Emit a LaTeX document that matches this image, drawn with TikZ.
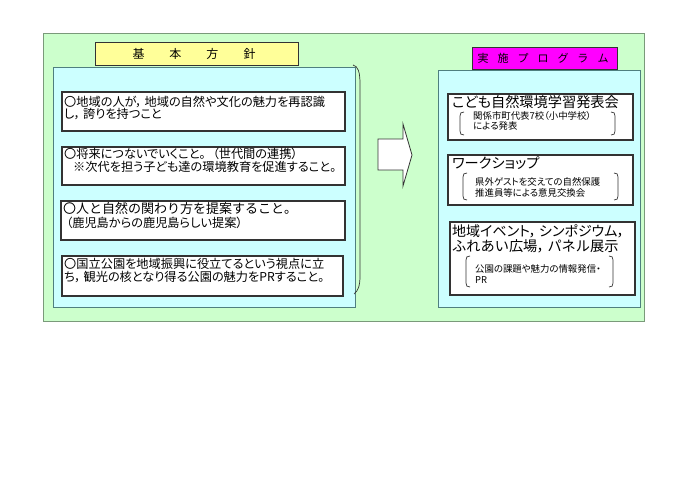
\documentclass[tikz,border=0pt]{standalone}
\usepackage{fontspec}
\setmainfont{Noto Sans CJK JP}[RawFeature={+palt}]
\newfontfamily\jpfix{Noto Sans CJK JP}
\usetikzlibrary{fit}
\definecolor{bggreen}{HTML}{CCFFCC}
\definecolor{bgcyan}{HTML}{CCFFFF}
\definecolor{ttlyellow}{HTML}{FFFF99}
\definecolor{ttlmag}{HTML}{FF00FF}
\definecolor{edgegreen}{HTML}{7A9A7A}
\definecolor{edgecyan}{HTML}{4F7F7F}
\definecolor{edgedark}{HTML}{333333}
\newcommand{\cm}{，\hspace{2.5pt}}
\tikzset{
  panel/.style={inner sep=0pt, outer sep=0pt, draw, line width=0.9pt},
  greenbox/.style={panel, fill=bggreen, draw=edgegreen},
  cyanbox/.style={panel, fill=bgcyan, draw=edgecyan},
  whitebox/.style={panel, fill=white, draw=edgedark, line width=1.1pt},
  ttlbox/.style={panel, draw=edgedark, line width=0.9pt},
  line/.style={inner sep=0pt, anchor=base west, text=black},
  lfont/.style={font=\fontsize{12.2}{12}\selectfont},
  tfont/.style={font=\fontsize{14.2}{14}\selectfont},
  sfont/.style={font=\fontsize{9.4}{9}\selectfont},
  brk/.style={draw=edgedark, line width=0.7pt},
}
\begin{document}
\begin{tikzpicture}[x=1pt,y=-1pt]
\useasboundingbox (0,0) rectangle (700,495);
\fill[white] (0,0) rectangle (700,495);
% outer panel
\node[greenbox, fit={(43,33) (644,321)}] (outer) {};
% left panel
\node[cyanbox, fit={(53,67) (355,307)}] (lpanel) {};
\node[ttlbox, fill=ttlyellow, fit={(95,42) (298,65)}] (ltitle) {};
\node[inner sep=0pt, anchor=base, font=\jpfix\fontsize{12}{12}\selectfont] (ltitletext) at (194,58)
  {基\hspace{25pt}本\hspace{25pt}方\hspace{25pt}針};
% right bracket of left panel
\coordinate (bt) at (353,65);
\coordinate (bb) at (354,294);
\draw[brk] (bt) .. controls (358,66) and (360,72) .. (360,84) -- (360,276) .. controls (360,286) and (358,291) .. (bb);
% left boxes
\node[whitebox, fit={(62,92) (345,131)}] (b1) {};
\node[whitebox, fit={(62,147) (345,185)}] (b2) {};
\node[whitebox, fit={(61,201) (345,240)}] (b3) {};
\node[whitebox, fit={(62,256) (343,296)}] (b4) {};
\node[line, lfont] (b1a) at (64,106) {〇地域の人が\cm 地域の自然や文化の魅力を再認識};
\node[line, lfont] (b1b) at (64,118) {し\cm 誇りを持つこと};
\node[line, lfont] (b2a) at (64,158.5) {〇将来につないでいくこと。\hspace{7pt}（世代間の連携）};
\node[line, lfont] (b2b) at (73,171.8) {※次代を担う子ども達の環境教育を促進すること。};
\node[line, font=\jpfix\fontsize{13}{13}\selectfont] (b3a) at (63,213.5) {〇人と自然の関わり方を提案すること。};
\node[line, lfont] (b3b) at (66,227) {（鹿児島からの鹿児島らしい提案）};
\node[line, lfont] (b4a) at (64,268.5) {〇国立公園を地域振興に役立てるという視点に立};
\node[line, lfont] (b4b) at (64,281) {ち\cm 観光の核となり得る公園の魅力をPRすること。};
% arrow
\draw[fill=white, draw=edgedark, line width=0.8pt] (378,139) -- (403,139) -- (403,124) -- (412,155) -- (403,186) -- (403,170) -- (378,170) -- cycle;
% right panel
\node[cyanbox, fit={(438,70) (640,307)}] (rpanel) {};
\node[ttlbox, fill=ttlmag, fit={(472,47) (617,69)}] (rtitle) {};
\node[inner sep=0pt, anchor=base, font=\jpfix\fontsize{11}{11}\selectfont] (rtitletext) at (543,62)
  {実\hspace{9pt}施\hspace{9pt}プ\hspace{9pt}ロ\hspace{9pt}グ\hspace{9pt}ラ\hspace{9pt}ム};
\node[whitebox, fit={(448,94) (633,140)}] (r1) {};
\node[whitebox, fit={(448,155) (633,205)}] (r2) {};
\node[whitebox, fit={(450,222) (635,295)}] (r3) {};
% r1
\node[line, tfont] (r1t) at (452,107) {こども自然環境学習発表会};
\node[line, sfont] (r1a) at (473,119.5) {関係市町代表7校（小中学校）};
\node[line, sfont] (r1b) at (473,129.5) {による発表};
\draw[brk] (464,112) .. controls (461,112) and (460,113) .. (460,116) -- (460,131) .. controls (460,134) and (461,135) .. (464,135);
\draw[brk] (611,112) .. controls (614,112) and (615,113) .. (615,116) -- (615,131) .. controls (615,134) and (614,135) .. (611,135);
% r2
\node[line, tfont] (r2t) at (452,168.5) {ワークショップ};
\node[line, sfont] (r2a) at (475,185) {県外ゲストを交えての自然保護};
\node[line, sfont] (r2b) at (475,196) {推進員等による意見交換会};
\draw[brk] (467,173) .. controls (464,173) and (463,174) .. (463,177) -- (463,196) .. controls (463,199) and (464,200) .. (467,200);
\draw[brk] (614,173) .. controls (617,173) and (618,174) .. (618,177) -- (618,196) .. controls (618,199) and (617,200) .. (614,200);
% r3
\node[line, font=\fontsize{14}{14}\selectfont] (r3t) at (452,236.5) {地域イベント\cm シンポジウム，};
\node[line, font=\jpfix\fontsize{14.2}{14}\selectfont] (r3u) at (452,251) {ふれあい広場{\addfontfeature{RawFeature={+palt}}，}\hspace{3pt}パネル展示};
\node[line, sfont] (r3a) at (475,272) {公園の課題や魅力の情報発信・};
\node[line, sfont] (r3b) at (475,283) {PR};
\draw[brk] (470,256) .. controls (467,256) and (466,257) .. (466,260) -- (466,283) .. controls (466,286) and (467,287) .. (470,287);
\draw[brk] (609,256) .. controls (612,256) and (613,257) .. (613,260) -- (613,283) .. controls (613,286) and (612,287) .. (609,287);
\end{tikzpicture}
\end{document}
